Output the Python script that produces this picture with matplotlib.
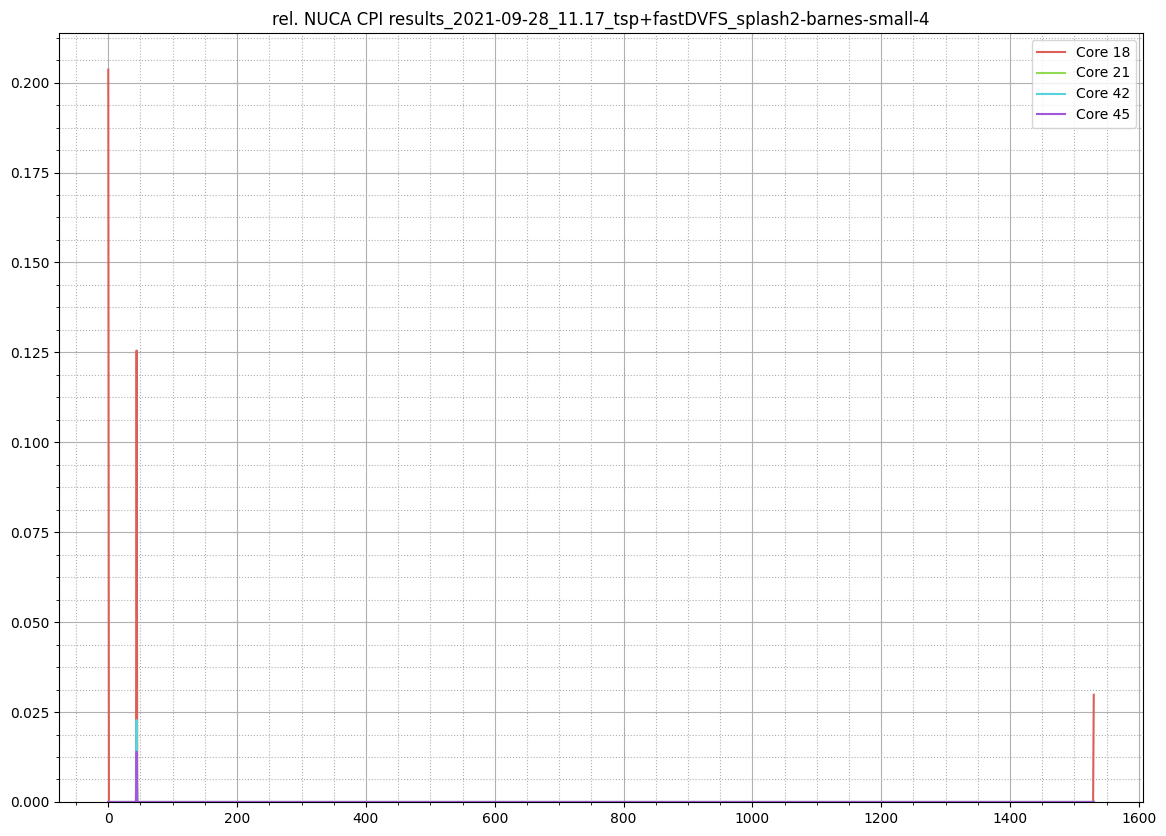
import numpy as np
import matplotlib
matplotlib.use("Agg")
import matplotlib.pyplot as plt
from matplotlib.ticker import AutoMinorLocator

title = "rel. NUCA CPI results_2021-09-28_11.17_tsp+fastDVFS_splash2-barnes-small-4"
n_samples = 1531
cores = ["Core 18", "Core 21", "Core 42", "Core 45"]
colors = ["#db5f57", "#91db57", "#57d3db", "#a157db"]
# spike positions and values per core (rest of series is zero)
spike_x = {
    "Core 18": [0, 44, 1530],
    "Core 21": [44],
    "Core 42": [44],
    "Core 45": [44],
}
spike_y = {
    "Core 18": [0.2036, 0.1255, 0.0298],
    "Core 21": [0.012],
    "Core 42": [0.0228],
    "Core 45": [0.0140],
}

fig, ax = plt.subplots(figsize=(11.66, 8.36), dpi=100)
x = np.arange(n_samples)
for core, c in zip(cores, colors):
    y = np.zeros(n_samples)
    y[spike_x[core]] = spike_y[core]
    ax.plot(x, y, color=c, label=core, linewidth=1.5)

ax.set_ylim(bottom=0)
ax.xaxis.set_minor_locator(AutoMinorLocator(4))
ax.yaxis.set_minor_locator(AutoMinorLocator(4))
ax.grid(which="major", color="#b0b0b0", linestyle="-", linewidth=0.8)
ax.grid(which="minor", color="#b0b0b0", linestyle=":", linewidth=0.8)
ax.set_title(title)
ax.legend(loc="upper right")
fig.subplots_adjust(left=0.0506, right=0.9803, bottom=0.0407, top=0.9605)
fig.savefig("out.png", dpi=100)
